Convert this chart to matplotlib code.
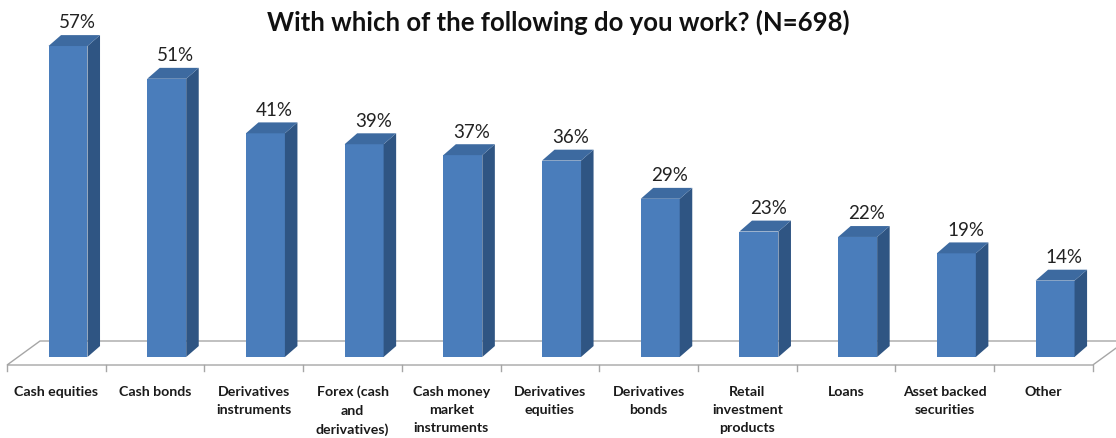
import matplotlib.pyplot as plt
from matplotlib.patches import Polygon

categories = ['Cash equities', 'Cash bonds', 'Derivatives\ninstruments',
              'Forex (cash\nand\nderivatives)', 'Cash money\nmarket\ninstruments',
              'Derivatives\nequities', 'Derivatives\nbonds', 'Retail\ninvestment\nproducts',
              'Loans', 'Asset backed\nsecurities', 'Other']
shares = [57, 51, 41, 39, 37, 36, 29, 23, 22, 19, 14]

plt.rcParams['font.family'] = ['Lato', 'DejaVu Sans']

FRONT = '#4a7dbb'
SIDE = '#2f5583'
TOP = '#3d6aa0'
FLOOR = '#a6a6a6'

fig = plt.figure(figsize=(11.16, 4.39), dpi=100)
ax = fig.add_axes([0, 0, 1, 1])
ax.set_xlim(-0.5714, 10.735)
ax.set_ylim(-14.85, 65.62)
ax.axis('off')

# fake 3d: floor depth and bar depth (x in category units, y in percent)
n = len(shares)
fdx, fdy = 0.334, 4.4
front_y = -1.47
floor = Polygon([(-0.5, front_y), (n - 0.5, front_y),
                 (n - 0.5 + fdx, front_y + fdy), (-0.5 + fdx, front_y + fdy)],
                closed=True, facecolor='white', edgecolor=FLOOR, lw=1.0, zorder=1)
ax.add_patch(floor)
for i in range(n + 1):
    ax.plot([i - 0.5, i - 0.5], [front_y, front_y - 1.1], color=FLOOR, lw=1.0, zorder=1)

width = 0.395
left = -0.08
bdx, bdy = 0.127, 2.0
for i, v in enumerate(shares):
    x0 = i + left
    x1 = x0 + width
    ax.bar(x0, v, width=width, align='edge', color=FRONT, lw=0, zorder=3)
    ax.add_patch(Polygon([(x1, 0), (x1 + bdx, bdy), (x1 + bdx, v + bdy), (x1, v)],
                         closed=True, facecolor=SIDE, lw=0, zorder=3))
    ax.add_patch(Polygon([(x0, v), (x1, v), (x1 + bdx, v + bdy), (x0 + bdx, v + bdy)],
                         closed=True, facecolor=TOP, lw=0, zorder=3))
    ax.text(i + 0.21, v + bdy + 1.4, f'{v}%', ha='center', va='baseline',
            fontsize=13.5, color='#222222')
    ax.text(i, -5.1, categories[i], ha='center', va='top', fontsize=10.2,
            fontweight='bold', color='#1a1a1a', linespacing=1.62)

fig.text(0.5, 1 - 22 / 439, 'With which of the following do you work? (N=698)',
         ha='center', va='center', fontsize=18.5, fontweight='bold', color='#111111')

fig.savefig('out.png', dpi=100)
